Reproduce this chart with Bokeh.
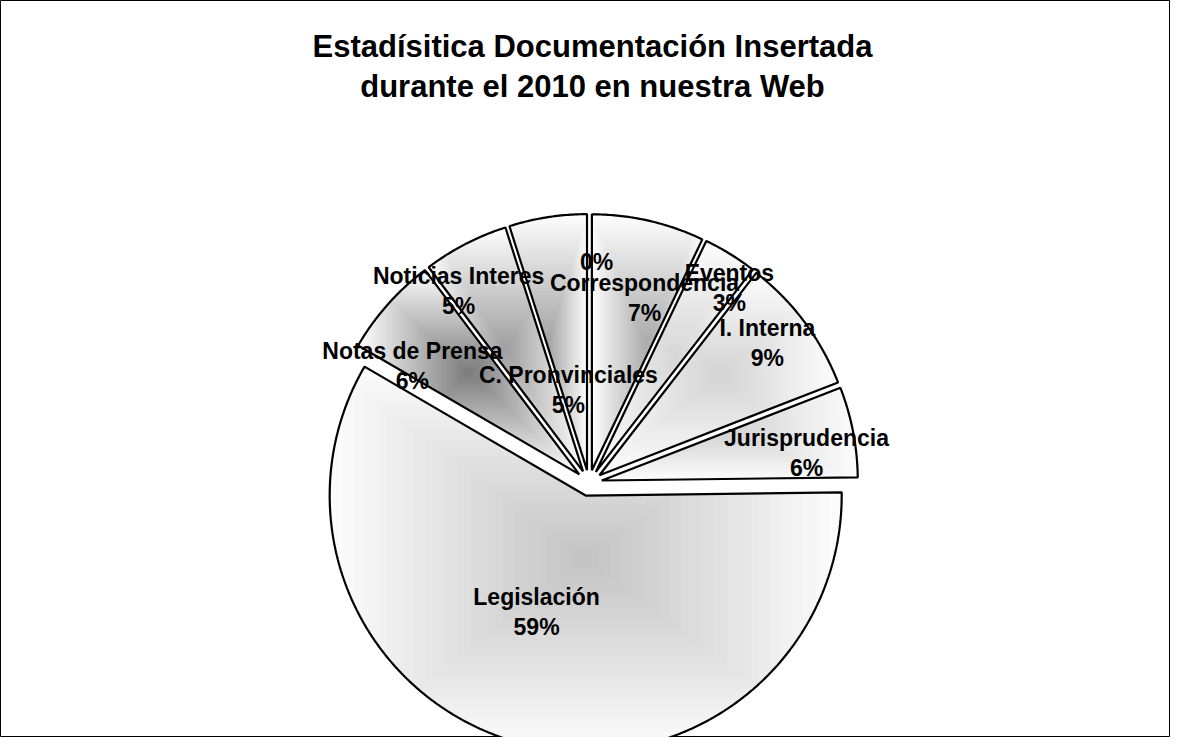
import numpy as np
from bokeh.plotting import figure
from bokeh.models import Range1d, Label, ColumnDataSource
from bokeh.core.properties import value
from bokeh.embed import file_html
from bokeh.resources import INLINE

# ---------------- data ----------------
categories = ["", "Correspondencia", "Eventos", "I. Interna", "Jurisprudencia",
              "Legislación", "Notas de Prensa", "Noticias Interes", "C. Pronvinciales"]
values = [0.0, 7.1, 3.4, 8.6, 5.7, 58.6, 6.3, 5.4, 4.9]
title_lines = ["Estadísitica Documentación Insertada", "durante el 2010 en nuestra Web"]

# ---------------- layout / style ----------------
CX, CY, R = 588.5, 482.5, 256.0
EXPLODE = 13.0
EDGE_GRAY = 252
center_gray = [230, 172, 215, 212, 212, 196, 125, 160, 165]
label_frac = [0.815, 0.704, 0.888, 0.835, 0.807, 0.494, 0.778, 0.857, 0.320]
label_dang = [2.1, 4.2, 4.3, -1.5, 3.3, 8.1, -8.5, -7.2, -4.3]
FONT = "Liberation Sans"
N_STEPS = 40


def clip_rect(pts, xmin, xmax, ymin, ymax):
    def clip(pts, inside, inter):
        out = []
        n = len(pts)
        for i in range(n):
            cur, prev = pts[i], pts[i - 1]
            ci, pi = inside(cur), inside(prev)
            if ci:
                if not pi:
                    out.append(inter(prev, cur))
                out.append(cur)
            elif pi:
                out.append(inter(prev, cur))
        return out

    def ix(p, q, x):
        t = (x - p[0]) / (q[0] - p[0])
        return (x, p[1] + t * (q[1] - p[1]))

    def iy(p, q, y):
        t = (y - p[1]) / (q[1] - p[1])
        return (p[0] + t * (q[0] - p[0]), y)

    pts = clip(pts, lambda p: p[0] >= xmin, lambda p, q: ix(p, q, xmin))
    if pts:
        pts = clip(pts, lambda p: p[0] <= xmax, lambda p, q: ix(p, q, xmax))
    if pts:
        pts = clip(pts, lambda p: p[1] >= ymin, lambda p, q: iy(p, q, ymin))
    if pts:
        pts = clip(pts, lambda p: p[1] <= ymax, lambda p, q: iy(p, q, ymax))
    return pts


total = float(sum(values))
cum = np.concatenate([[0.0], np.cumsum(values)]) / total * 360.0

grad_xs, grad_ys, grad_cols = [], [], []
out_xs, out_ys = [], []
lab_x, lab_y = [], []

for i, v in enumerate(values):
    a0, a1 = cum[i], cum[i + 1]
    mid = 0.5 * (a0 + a1)
    ax = CX + EXPLODE * np.sin(np.radians(mid))
    ay = CY - EXPLODE * np.cos(np.radians(mid))
    la = np.radians(mid + label_dang[i])
    lab_x.append(ax + label_frac[i] * R * np.sin(la))
    lab_y.append(ay - label_frac[i] * R * np.cos(la))
    if v <= 0:
        continue
    n = max(8, int((a1 - a0) * 2))
    t = np.radians(np.linspace(a0, a1, n))
    px = np.concatenate([[ax], ax + R * np.sin(t)])
    py = np.concatenate([[ay], ay - R * np.cos(t)])
    out_xs.append(list(px))
    out_ys.append(list(py))
    pts = list(zip(px, py))
    xmin, xmax, ymin, ymax = px.min(), px.max(), py.min(), py.max()
    bx, by = 0.5 * (xmin + xmax), 0.5 * (ymin + ymax)
    hw, hh = 0.5 * (xmax - xmin), 0.5 * (ymax - ymin)
    for k in range(N_STEPS):
        s = 1.0 - k / N_STEPS
        c = clip_rect(pts, bx - s * hw - 0.01, bx + s * hw + 0.01,
                      by - s * hh - 0.01, by + s * hh + 0.01)
        if len(c) < 3:
            continue
        g = int(round(EDGE_GRAY + (center_gray[i] - EDGE_GRAY) * k / (N_STEPS - 1)))
        grad_xs.append([q[0] for q in c])
        grad_ys.append([q[1] for q in c])
        grad_cols.append("#%02x%02x%02x" % (g, g, g))

p = figure(width=1170, height=737, x_range=Range1d(0, 1170), y_range=Range1d(737, 0),
           x_axis_type=None, y_axis_type=None, output_backend="svg",
           toolbar_location=None, min_border=0)
p.grid.visible = False
p.outline_line_color = "black"
p.outline_line_width = 1
p.background_fill_color = "white"
p.border_fill_color = "white"

p.patches(grad_xs, grad_ys, fill_color=grad_cols, line_color=None)
p.patches(out_xs, out_ys, fill_color=None, line_color="black", line_width=2.2)

names_x, names_y, names_t = [], [], []
pct_x, pct_y, pct_t, pct_off = [], [], [], []
for i, v in enumerate(values):
    pct = f"{round(v)}%"
    if categories[i]:
        names_x.append(lab_x[i]); names_y.append(lab_y[i]); names_t.append(categories[i])
        pct_off.append(15)
    else:
        pct_off.append(0)
    pct_x.append(lab_x[i]); pct_y.append(lab_y[i]); pct_t.append(pct)

src_n = ColumnDataSource(dict(x=names_x, y=names_y, text=names_t))
src_p = ColumnDataSource(dict(x=pct_x, y=pct_y, text=pct_t, yoff=pct_off))
p.text("x", "y", text="text", source=src_n, y_offset=-15, text_align="center",
       text_baseline="middle", text_font=value(FONT), text_font_style="bold",
       text_font_size="23px", text_color="black")
p.text("x", "y", text="text", source=src_p, y_offset="yoff", text_align="center",
       text_baseline="middle", text_font=value(FONT), text_font_style="bold",
       text_font_size="23px", text_color="black")

for j, line in enumerate(title_lines):
    p.add_layout(Label(x=592, y=46 + 40 * j, text=line, text_align="center",
                       text_baseline="middle", text_font=FONT, text_font_style="bold",
                       text_font_size="31px", text_color="black"))

open("out.html", "w").write(file_html(p, INLINE))
